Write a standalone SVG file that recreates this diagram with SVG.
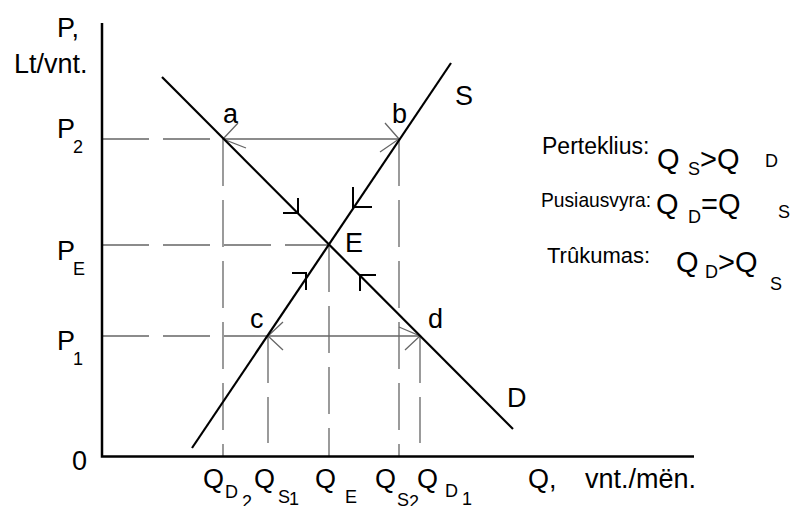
<svg xmlns="http://www.w3.org/2000/svg" width="800" height="506" viewBox="0 0 800 506">
<style>
text{font-family:"Liberation Sans",Arial,sans-serif;fill:#000}
.m{font-size:27px}
.s{font-size:18px}
.r{font-size:22px}
.rq{font-size:29px}
.ax{stroke:#000;stroke-width:2.5;fill:none}
.cv{stroke:#000;stroke-width:2.2;fill:none}
.dir{stroke:#000;stroke-width:2;fill:none}
.dash{stroke:#666;stroke-width:1.3;fill:none;stroke-dasharray:47 14}
.gl{stroke:#666;stroke-width:1.3;fill:none}
</style>
<rect width="800" height="506" fill="#fff"/>
<g id="guides">
<line class="dash" x1="102" y1="139" x2="223" y2="139"/>
<line class="dash" x1="102" y1="245" x2="329" y2="245"/>
<line class="dash" x1="102" y1="336" x2="268" y2="336"/>
<line class="dash" x1="223" y1="139" x2="223" y2="457"/>
<line class="dash" x1="399" y1="139" x2="399" y2="457"/>
<line class="dash" x1="329" y1="245" x2="329" y2="457"/>
<line class="dash" x1="268" y1="336" x2="268" y2="443"/>
<line class="dash" x1="420" y1="336" x2="420" y2="443"/>
</g>
<g id="connectors">
<line class="gl" x1="223" y1="139" x2="399" y2="139"/>
<path class="gl" d="M238,123 L223,139 L246,148"/>
<path class="gl" d="M385,123 L399,139 L380,152"/>
<line class="gl" x1="268" y1="336" x2="420" y2="336"/>
<path class="gl" d="M283,322 L268,336 L283,350"/>
<path class="gl" d="M399,327 L420,336 L405,350"/>
<path class="dir" d="M298,198 L298,213 L283,213"/>
<path class="dir" d="M353,187 L353,207 L372,207"/>
<path class="dir" d="M292,273 L306,273 L306,290"/>
<path class="dir" d="M376,275 L360,275 L360,291"/>
</g>
<g id="axes">
<path class="ax" d="M102,23 L102,456.5 L694,456.5"/>
</g>
<g id="curve-D"><line class="cv" x1="162" y1="77" x2="513" y2="429"/></g>
<g id="curve-S"><line class="cv" x1="192" y1="448" x2="451" y2="63"/></g>
<g id="labels">
<text class="m" x="57" y="37">P,</text>
<text class="m" x="14" y="73">Lt/vnt.</text>
<text class="m" x="57" y="138">P</text><text class="s" x="73" y="153">2</text>
<text class="m" x="57" y="260">P</text><text class="s" x="73" y="275">E</text>
<text class="m" x="57" y="350">P</text><text class="s" x="73" y="365">1</text>
<text class="m" x="72" y="470">0</text>
<text class="m" x="223" y="123">a</text>
<text class="m" x="392" y="123">b</text>
<text class="m" x="250" y="328">c</text>
<text class="m" x="428" y="328">d</text>
<text class="m" x="345" y="252">E</text>
<text class="m" x="455" y="105">S</text>
<text class="m" x="507" y="407">D</text>
<text class="m" x="203" y="488">Q</text><text class="s" x="225" y="498">D</text><text class="s" x="242" y="508">2</text>
<text class="m" x="254" y="488">Q</text><text class="s" x="278" y="503">S</text><text class="s" x="289" y="505">1</text>
<text class="m" x="315" y="488">Q</text><text class="s" x="345" y="503">E</text>
<text class="m" x="375" y="488">Q</text><text class="s" x="397" y="506">S</text><text class="s" x="409" y="508">2</text>
<text class="m" x="417" y="488">Q</text><text class="s" x="445" y="497">D</text><text class="s" x="462" y="505">1</text>
<text class="m" x="528" y="488">Q,</text>
<text class="m" x="585" y="488">vnt./mën.</text>
<text class="r" x="542" y="154" style="font-size:23px">Perteklius:</text>
<text class="rq" x="657" y="169">Q</text><text class="s" x="688" y="175">S</text><text class="rq" x="700" y="169">&gt;Q</text><text class="s" x="765" y="167">D</text>
<text class="r" x="541" y="207" style="font-size:21px" textLength="110" lengthAdjust="spacingAndGlyphs">Pusiausvyra:</text>
<text class="rq" x="656" y="214">Q</text><text class="s" x="688" y="223">D</text><text class="rq" x="701" y="214">=Q</text><text class="s" x="778" y="218">S</text>
<text class="r" x="547" y="263">Trûkumas:</text>
<text class="rq" x="676" y="272">Q</text><text class="s" x="705" y="278">D</text><text class="rq" x="718" y="272">&gt;Q</text><text class="s" x="770" y="290">S</text>
</g>
</svg>
